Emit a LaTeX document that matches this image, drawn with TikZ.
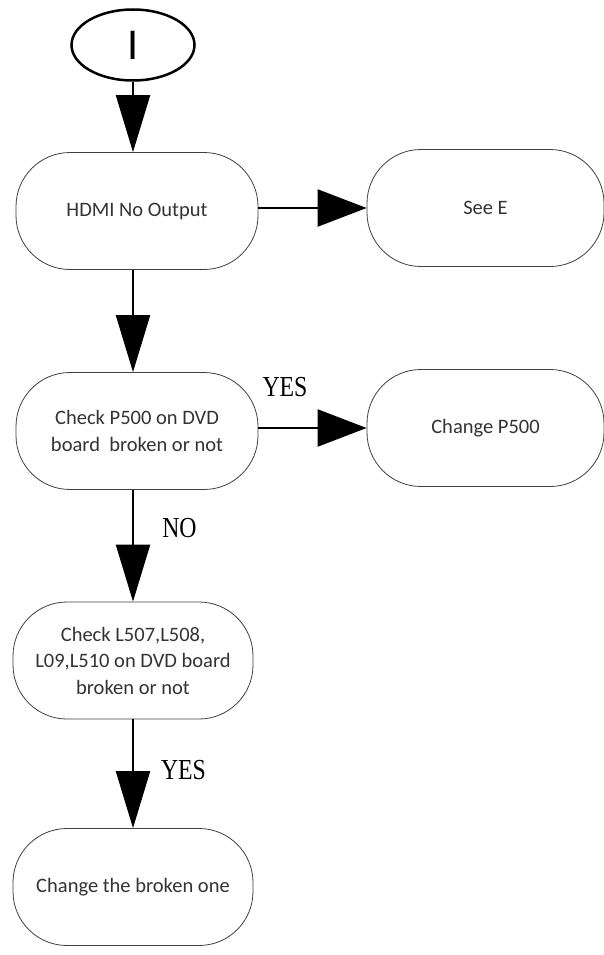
\documentclass[tikz,border=0pt]{standalone}
\usepackage{graphicx}
\usepackage{fontspec}
\setmainfont{Liberation Serif}
\newfontfamily\boxfont{Carlito}
\usetikzlibrary{arrows.meta,shapes.geometric}
\begin{document}
\begin{tikzpicture}[x=1pt,y=-1pt,
  stadium/.style={draw=black!75, line width=0.8pt, rounded corners=54pt,
    minimum width=242pt, minimum height=117pt, align=center,
    font=\boxfont\fontsize{20.5}{26.5}\selectfont, text=black!80, inner sep=0pt},
  flow/.style={line width=2.3pt, -{Triangle[length=57pt,width=34pt]}},
  hflow/.style={line width=2.3pt, -{Triangle[length=49pt,width=37pt]}},
  lbl/.style={font=\fontsize{29}{30}\selectfont, inner sep=0pt}]
\useasboundingbox (0,0) rectangle (604,955);
\fill[white] (0,0) rectangle (604,955);

\node[ellipse, draw, line width=2.5pt, minimum width=123pt, minimum height=71pt,
  inner sep=0pt, font=\boxfont\fontsize{44}{44}\selectfont] (start) at (133,45) {I};

\node[stadium] (hdmi) at (137,211) {HDMI No Output};
\node[stadium, minimum width=237pt] (seee) at (485.5,208) {See E};
\node[stadium] (chk1) at (137,431) {Check P500 on DVD\\board\ \ broken or not};
\node[stadium, minimum width=237pt] (chg1) at (485.5,428) {Change P500};
\node[stadium, minimum width=240pt] (chk2) at (133,660.5) {Check L507,L508,\\L09,L510 on DVD board\\broken or not};
\node[stadium, minimum width=240pt] (chg2) at (133,887) {Change the broken one};

\draw[flow] (start.south) -- (start.south |- hdmi.north);
\draw[flow] (hdmi.south -| start.south) -- (chk1.north -| start.south);
\draw[hflow] (hdmi.east |- seee.west) -- (seee.west);
\draw[hflow] (chk1.east |- chg1.west) -- (chg1.west);
\draw[flow] (chk1.south -| chk2.north) -- (chk2.north);
\draw[flow] (chk2.south) -- (chg2.north);

\node[lbl] (yes1) at (285,387) {\scalebox{0.82}[1]{YES}};
\node[lbl] (no1) at (179.5,528) {\scalebox{0.82}[1]{NO}};
\node[lbl] (yes2) at (183.5,770) {\scalebox{0.82}[1]{YES}};
\end{tikzpicture}
\end{document}
